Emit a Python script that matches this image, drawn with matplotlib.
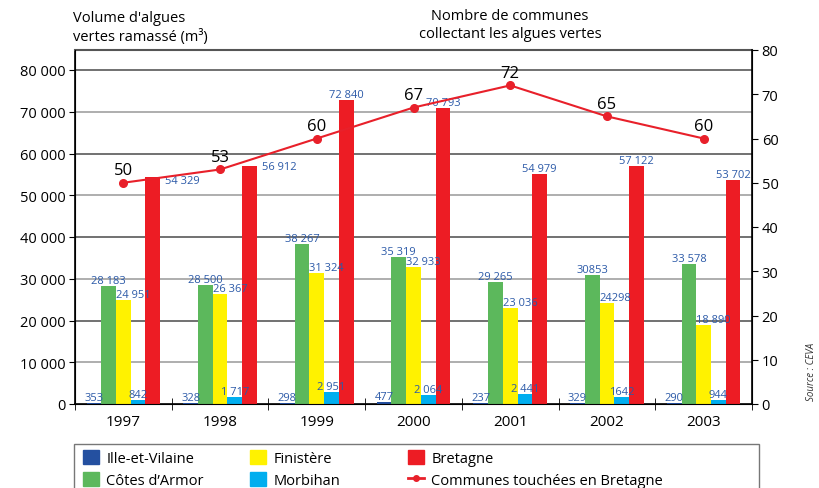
import matplotlib
matplotlib.use("Agg")
import matplotlib.pyplot as plt
import numpy as np
from matplotlib.ticker import FuncFormatter, MultipleLocator
from matplotlib.patches import Patch, Rectangle
from matplotlib.lines import Line2D

plt.rcParams['font.family'] = ['Open Sans', 'DejaVu Sans']

years = ['1997', '1998', '1999', '2000', '2001', '2002', '2003']
ille = [353, 328, 298, 477, 237, 329, 290]
cotes = [28183, 28500, 38267, 35319, 29265, 30853, 33578]
finistere = [24951, 26367, 31324, 32933, 23036, 24298, 18890]
morbihan = [842, 1717, 2951, 2064, 2441, 1642, 944]
bretagne = [54329, 56912, 72840, 70793, 54979, 57122, 53702]
communes = [50, 53, 60, 67, 72, 65, 60]

series = [
    ("Ille-et-Vilaine", ille, "#2450a0"),
    ("Côtes d’Armor", cotes, "#5cb85c"),
    ("Finistère", finistere, "#fff200"),
    ("Morbihan", morbihan, "#00aeef"),
    ("Bretagne", bretagne, "#ed1c24"),
]
# values printed without a thousands space in the source
no_sep = {30853, 24298, 1642}
lab_col = "#2c5aa8"
red_line = "#e8202a"


def fmt(v):
    if v in no_sep:
        return str(v)
    return f"{v:,}".replace(",", " ")


fig = plt.figure(figsize=(8.19, 4.89), dpi=100)
ax = fig.add_axes([75 / 819, 1 - 405 / 489, 677 / 819, 354 / 489])
ax2 = ax.twinx()

x = np.arange(len(years))
w = 0.152
for i, (name, vals, col) in enumerate(series):
    xs = x + (i - 2) * w
    ax.bar(xs, vals, w, color=col, zorder=3)
    for j, (xx, v) in enumerate(zip(xs, vals)):
        if name == "Finistère":
            ax.text(xx - w / 2, v, fmt(v), ha='left', va='bottom',
                    fontsize=8, color=lab_col, zorder=5)
        elif name == "Bretagne" and j < 2:
            ax.text(xx + w / 2 + 0.05, v - (900 if j == 0 else 0), fmt(v),
                    ha='left', va='center', fontsize=8, color=lab_col, zorder=5)
        else:
            ax.text(xx, v, fmt(v), ha='center', va='bottom',
                    fontsize=8, color=lab_col, zorder=5)

ymax = 80000 * 354 / 334
ax.set_ylim(0, ymax)
ax.set_xlim(-0.5, len(years) - 0.5)
ax.set_yticks(np.arange(0, 80001, 10000))
ax.yaxis.set_major_formatter(FuncFormatter(lambda v, p: f"{int(v):,}".replace(",", " ")))
ax.tick_params(axis='y', labelsize=10.5, length=4, direction='out', pad=3)

ax.set_xticks(x)
ax.set_xticklabels(years, fontsize=11)
ax.set_xticks(np.arange(-0.5, len(years)), minor=True)
ax.tick_params(axis='x', which='major', length=0, pad=7)
ax.tick_params(axis='x', which='minor', length=8, direction='inout')

for v in np.arange(10000, 80001, 10000):
    c = "#666666" if v % 20000 == 0 else "#a8a8a8"
    ax.axhline(v, color=c, lw=1.3, zorder=1)

ax.spines['top'].set_color("#555555")
ax.spines['top'].set_linewidth(1.5)
for s in ['left', 'bottom']:
    ax.spines[s].set_linewidth(1.2)
ax2.spines['top'].set_visible(False)
ax2.spines['right'].set_linewidth(1.2)

ax2.plot(x, communes, color=red_line, lw=1.5, marker='o', ms=5.5, zorder=6)
for xx, v in zip(x, communes):
    ax2.annotate(str(v), (xx, v), xytext=(0, 3.5), textcoords='offset points',
                 ha='center', va='bottom', fontsize=12, color='black')
ax2.set_ylim(0, 80)
ax2.yaxis.set_major_locator(MultipleLocator(10))
ax2.tick_params(axis='y', labelsize=10.5, length=4, direction='out', pad=3)

fig.text(73 / 819, 1 - 18 / 489, "Volume d'algues", fontsize=10.5, va='center', ha='left')
fig.text(73 / 819, 1 - 37 / 489, "vertes ramassé (m³)", fontsize=10.5, va='center', ha='left')
fig.text(510 / 819, 1 - 17 / 489, "Nombre de communes", fontsize=10.5, va='center', ha='center')
fig.text(510 / 819, 1 - 35 / 489, "collectant les algues vertes", fontsize=10.5, va='center', ha='center')
fig.text(811 / 819, 1 - 372 / 489, "Source : CEVA", rotation=90, fontsize=7,
         style='italic', color='#333333', ha='center', va='center')

# legend: three columns inside one box that runs off the bottom edge
fig.patches.append(Rectangle((74 / 819, -0.05), 685 / 819, 0.05 + 44 / 489,
                             transform=fig.transFigure, fill=False,
                             edgecolor="#777777", lw=1.0))
cols = [
    ([Patch(color=series[0][2], label=series[0][0]),
      Patch(color=series[1][2], label=series[1][0])], 80),
    ([Patch(color=series[2][2], label=series[2][0]),
      Patch(color=series[3][2], label=series[3][0])], 247),
    ([Patch(color=series[4][2], label=series[4][0]),
      Line2D([], [], color=red_line, lw=2, marker='o', ms=4,
             label="Communes touchées en Bretagne")], 405),
]
for hs, px in cols:
    fig.legend(handles=hs, loc='upper left', bbox_to_anchor=(px / 819, 1 - 448 / 489),
               fontsize=10.5, frameon=False, handlelength=1.1, handleheight=1.1,
               handletextpad=0.5, borderpad=0.2, labelspacing=0.4, borderaxespad=0)

fig.savefig("out.png", dpi=100)
